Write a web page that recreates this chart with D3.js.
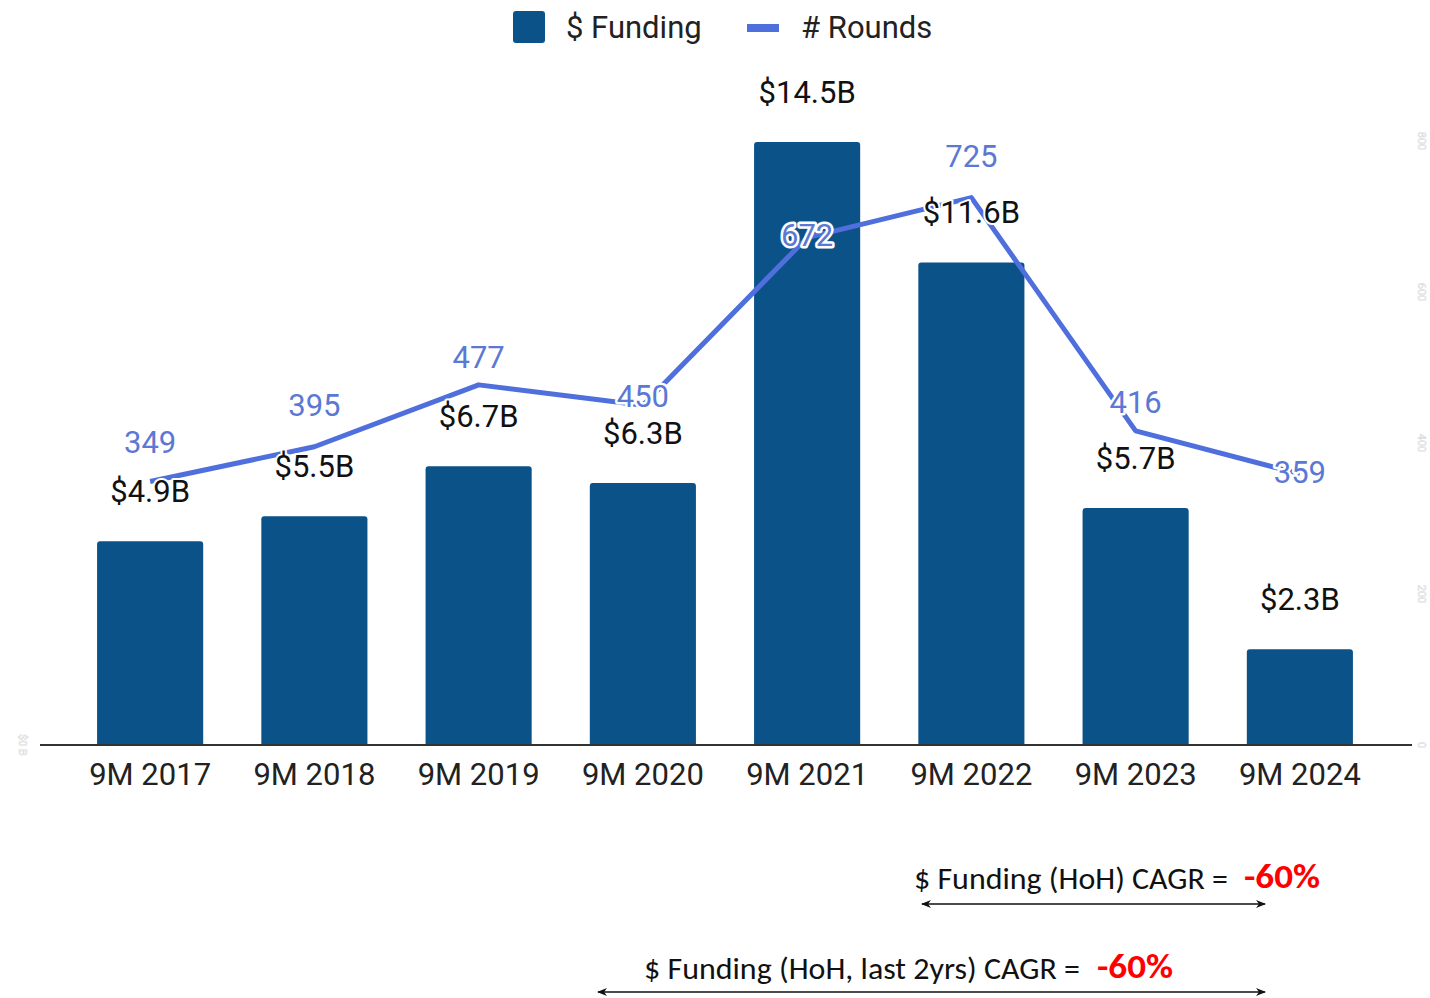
<!DOCTYPE html>
<html>
<head>
<meta charset="utf-8">
<script src="https://cdn.jsdelivr.net/npm/d3@7/dist/d3.min.js"></script>
<style>
  body { margin: 0; background: #fff; }
  svg { display: block; }
  .lbl { font-family: Roboto, 'Noto Sans', sans-serif; paint-order: stroke; stroke: #fff; stroke-linejoin: round; }
</style>
</head>
<body>
<svg id="chart" width="1430" height="998"></svg>
<script>
/* global d3 */

// data
const periods = ['9M 2017', '9M 2018', '9M 2019', '9M 2020', '9M 2021', '9M 2022', '9M 2023', '9M 2024']
const funding = [4.9, 5.5, 6.7, 6.3, 14.5, 11.6, 5.7, 2.3]
const rounds = [349, 395, 477, 450, 672, 725, 416, 359]
const roundTicks = [0, 200, 400, 600, 800]

// label nudges (px, relative to the line point) so labels don't collide
const roundLabelDy = [-39, -42, -28, -9, -2, -41, -29, -2]

const barColor = '#0b5289'
const lineColor = '#4f6fdd'
const labelBlue = '#5b78d4'
const fs = 31

const baseY = 745
const topY = 141

const svg = d3.select('#chart')

const x = d3.scaleBand()
  .domain(periods)
  .range([68, 1382])
  .paddingInner(0.354)
  .paddingOuter(0.177)

const yL = d3.scaleLinear().domain([0, 14.5]).range([baseY, topY + 1])
const yR = d3.scaleLinear().domain([0, 800]).range([baseY, topY])

// bars, slightly rounded top corners
svg.append('g').selectAll('path').data(funding)
  .enter().append('path')
    .attr('fill', barColor)
    .attr('d', (d, i) => {
      const x0 = x(periods[i])
      const x1 = x0 + x.bandwidth()
      const y0 = yL(d)
      const r = 3
      return 'M' + x0 + ',' + baseY + 'V' + (y0 + r) + 'Q' + x0 + ',' + y0 + ' ' + (x0 + r) + ',' + y0 +
        'H' + (x1 - r) + 'Q' + x1 + ',' + y0 + ' ' + x1 + ',' + (y0 + r) + 'V' + baseY + 'Z'
    })

// baseline axis
svg.append('line')
  .attr('x1', 40).attr('x2', 1412)
  .attr('y1', baseY).attr('y2', baseY)
  .attr('stroke', '#333').attr('stroke-width', 2)

// x axis labels
const xAxis = svg.append('g')
  .attr('transform', 'translate(0,' + baseY + ')')
  .call(d3.axisBottom(x).tickSize(0).tickPadding(18))
xAxis.select('.domain').remove()
xAxis.selectAll('text')
  .attr('font-family', 'Roboto, sans-serif')
  .attr('font-size', fs)
  .attr('fill', '#222')

// faint ghost axis labels (barely visible in the original)
svg.append('g').selectAll('text').data(roundTicks)
  .enter().append('text')
    .attr('font-family', 'Roboto, sans-serif')
    .attr('font-size', 11)
    .attr('fill', '#fff')
    .attr('stroke', '#ddd')
    .attr('stroke-width', 0.6)
    .attr('text-anchor', 'middle')
    .attr('transform', d => 'translate(1422,' + yR(d) + ') rotate(90)')
    .attr('dy', '0.35em')
    .text(d => d)

svg.append('text')
  .attr('x', 23).attr('y', baseY)
  .attr('font-family', 'Roboto, sans-serif')
  .attr('font-size', 11)
  .attr('fill', '#fff')
  .attr('stroke', '#ddd')
  .attr('stroke-width', 0.6)
  .attr('text-anchor', 'middle')
  .attr('transform', 'rotate(90,23,' + baseY + ')')
  .attr('dy', '0.35em')
  .text('$0 B')

// rounds line
const cx = i => x(periods[i]) + x.bandwidth() / 2
const line = d3.line()
  .x((d, i) => cx(i))
  .y(d => yR(d))

svg.append('path')
  .datum(rounds)
  .attr('fill', 'none')
  .attr('stroke', lineColor)
  .attr('stroke-width', 5)
  .attr('stroke-linejoin', 'round')
  .attr('d', line)

// bar value labels
svg.append('g').selectAll('text').data(funding)
  .enter().append('text')
    .attr('class', 'lbl')
    .attr('x', (d, i) => cx(i))
    .attr('y', d => yL(d) - 50)
    .attr('dy', '0.35em')
    .attr('text-anchor', 'middle')
    .attr('font-size', fs)
    .attr('fill', '#111')
    .attr('stroke-width', 4)
    .text(d => '$' + d3.format('.1f')(d) + 'B')

// rounds value labels
svg.append('g').selectAll('text').data(rounds)
  .enter().append('text')
    .attr('class', 'lbl')
    .attr('x', (d, i) => cx(i))
    .attr('y', (d, i) => yR(d) + roundLabelDy[i])
    .attr('dy', '0.35em')
    .attr('text-anchor', 'middle')
    .attr('font-size', fs)
    .attr('fill', labelBlue)
    .attr('stroke-width', 5)
    .text(d => d)

// legend
const legend = svg.append('g')
legend.append('rect')
  .attr('x', 513).attr('y', 11).attr('width', 32).attr('height', 32)
  .attr('rx', 3).attr('fill', barColor)
legend.append('text')
  .attr('x', 566).attr('y', 27).attr('dy', '0.35em')
  .attr('font-family', 'Roboto, sans-serif').attr('font-size', fs).attr('fill', '#222')
  .text('$ Funding')
legend.append('rect')
  .attr('x', 747).attr('y', 24).attr('width', 32).attr('height', 8)
  .attr('fill', lineColor)
legend.append('text')
  .attr('x', 801).attr('y', 27).attr('dy', '0.35em')
  .attr('font-family', 'Roboto, sans-serif').attr('font-size', fs).attr('fill', '#222')
  .text('# Rounds')

// CAGR annotations with double-headed arrows
const defs = svg.append('defs')
defs.append('marker')
  .attr('id', 'head')
  .attr('viewBox', '0 0 10 10')
  .attr('refX', 9).attr('refY', 5)
  .attr('markerWidth', 10).attr('markerHeight', 10)
  .attr('markerUnits', 'userSpaceOnUse')
  .attr('orient', 'auto-start-reverse')
  .append('path')
    .attr('d', 'M0,1 L10,5 L0,9 L3,5 Z')
    .attr('fill', '#111')

const notes = [
  { text: '$ Funding (HoH) CAGR =', pct: '-60%', tx: 914, tw: 314, px: 1244, ty: 878, ax0: 922, ax1: 1265, ay: 904 },
  { text: '$ Funding (HoH, last 2yrs) CAGR =', pct: '-60%', tx: 644, tw: 436, px: 1097, ty: 968, ax0: 598, ax1: 1265, ay: 992 }
]
notes.forEach(n => {
  svg.append('text')
    .attr('x', n.tx).attr('y', n.ty).attr('dy', '0.35em')
    .attr('font-family', "Carlito, 'Liberation Sans Narrow', 'Open Sans', sans-serif")
    .attr('font-size', 30).attr('fill', '#111')
    .attr('textLength', n.tw).attr('lengthAdjust', 'spacingAndGlyphs')
    .text(n.text)
  svg.append('text')
    .attr('x', n.px).attr('y', n.ty - 2).attr('dy', '0.35em')
    .attr('font-family', "Carlito, 'Liberation Sans Narrow', 'Open Sans', sans-serif")
    .attr('font-size', 34).attr('font-weight', 'bold').attr('fill', '#ff0000')
    .attr('textLength', 76).attr('lengthAdjust', 'spacingAndGlyphs')
    .text(n.pct)
  svg.append('line')
    .attr('x1', n.ax0).attr('x2', n.ax1)
    .attr('y1', n.ay).attr('y2', n.ay)
    .attr('stroke', '#111').attr('stroke-width', 1.5)
    .attr('marker-start', 'url(#head)')
    .attr('marker-end', 'url(#head)')
})
</script>
</body>
</html>
